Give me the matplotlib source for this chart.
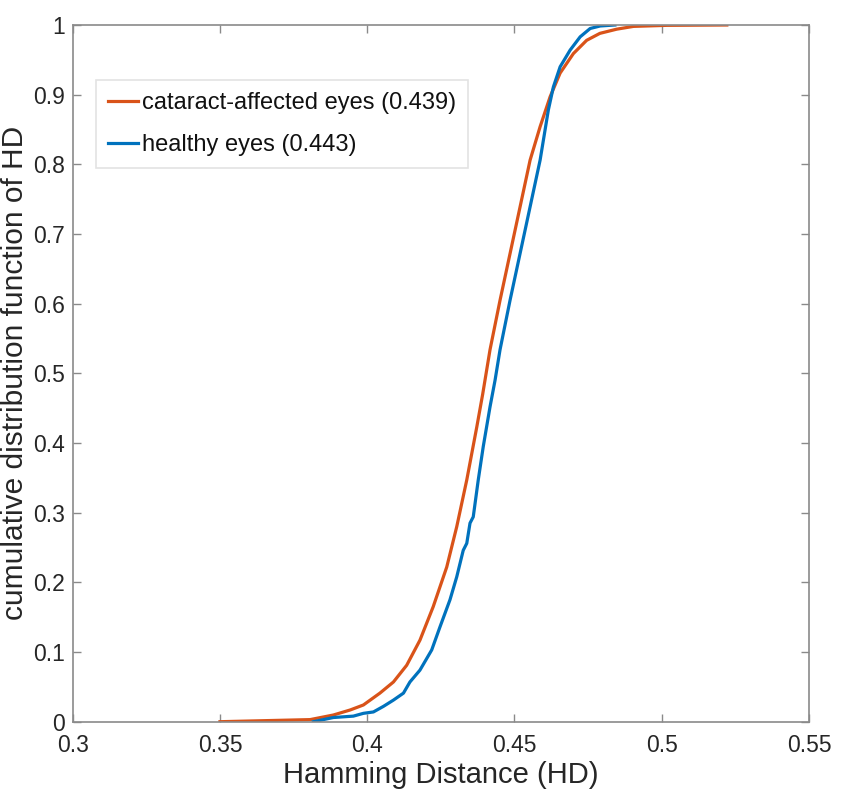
import numpy as np
import matplotlib.pyplot as plt

plt.rcParams['font.family'] = ['Liberation Sans', 'DejaVu Sans']

hd_cataract = [0.35, 0.3806, 0.3885, 0.3942, 0.3987, 0.4043, 0.4089, 0.4134, 0.4179,
               0.4224, 0.4270, 0.4304, 0.4338, 0.4372, 0.4392, 0.4417, 0.4451, 0.4485,
               0.4519, 0.4553, 0.4587, 0.4621, 0.4655, 0.4700, 0.4745, 0.4790, 0.4847,
               0.4904, 0.5017, 0.5221]
cdf_cataract = [0.0, 0.003, 0.0096, 0.0168, 0.024, 0.041, 0.057, 0.081, 0.117,
                0.165, 0.222, 0.280, 0.347, 0.423, 0.47, 0.534, 0.605, 0.672,
                0.739, 0.806, 0.854, 0.897, 0.931, 0.959, 0.978, 0.988, 0.994,
                0.998, 0.9995, 1.0]

hd_healthy = [0.3817, 0.3885, 0.3953, 0.3987, 0.4021, 0.4055, 0.4089, 0.4123, 0.4145,
              0.4179, 0.4219, 0.4247, 0.4281, 0.4304, 0.4326, 0.4338, 0.4349, 0.4360,
              0.4377, 0.4394, 0.4417, 0.4434, 0.4451, 0.4485, 0.4519, 0.4553, 0.4587,
              0.4615, 0.4632, 0.4655, 0.4689, 0.4723, 0.4757, 0.4791, 0.4841]
cdf_healthy = [0.0, 0.006, 0.008, 0.012, 0.014, 0.022, 0.031, 0.041, 0.057,
               0.074, 0.103, 0.136, 0.175, 0.208, 0.246, 0.256, 0.285, 0.294,
               0.347, 0.395, 0.452, 0.49, 0.534, 0.605, 0.672, 0.739, 0.806,
               0.878, 0.911, 0.940, 0.964, 0.983, 0.995, 0.9986, 1.0]

labels = ['cataract-affected eyes (0.439)', 'healthy eyes (0.443)']
xticks = [0.3, 0.35, 0.4, 0.45, 0.5, 0.55]
yticks = np.arange(0, 1.01, 0.1)

fig = plt.figure(figsize=(8.43, 7.94), dpi=100)
ax = fig.add_axes([72.7/843, 1 - 721.7/794, 736.3/843, 696.7/794])

ax.plot(hd_cataract, cdf_cataract, color='#D95319', lw=2.3, label=labels[0])
ax.plot(hd_healthy, cdf_healthy, color='#0072BD', lw=2.3, label=labels[1])

ax.set_xlim(0.3, 0.55)
ax.set_ylim(0, 1)
ax.set_xticks(xticks)
ax.set_xticklabels(['0.3', '0.35', '0.4', '0.45', '0.5', '0.55'])
ax.set_yticks(yticks)
ax.set_yticklabels(['0'] + ['%.1f' % v for v in yticks[1:-1]] + ['1'])

for s in ax.spines.values():
    s.set_color('#8a8a8a')
    s.set_linewidth(1.2)
ax.tick_params(direction='in', top=True, right=True, length=6, width=1.0,
               color='#8a8a8a', labelcolor='#262626', labelsize=16.5)
ax.tick_params(axis='x', pad=8.5)
ax.tick_params(axis='y', pad=5.5)

ax.set_xlabel('Hamming Distance (HD)', fontsize=21, color='#262626', labelpad=3)
ax.set_ylabel('cumulative distribution function of HD', fontsize=21.5, color='#262626', labelpad=3)

leg = ax.legend(loc='upper left', bbox_to_anchor=(0.0316, 0.921), fontsize=17,
                frameon=True, fancybox=False, handlelength=1.27, handletextpad=0.2,
                labelspacing=0.85, borderpad=0.5, borderaxespad=0)
leg.get_frame().set_edgecolor('#dcdcdc')
leg.get_frame().set_linewidth(1.2)
for t in leg.get_texts():
    t.set_color('#111111')

fig.savefig('out.png', dpi=100)
